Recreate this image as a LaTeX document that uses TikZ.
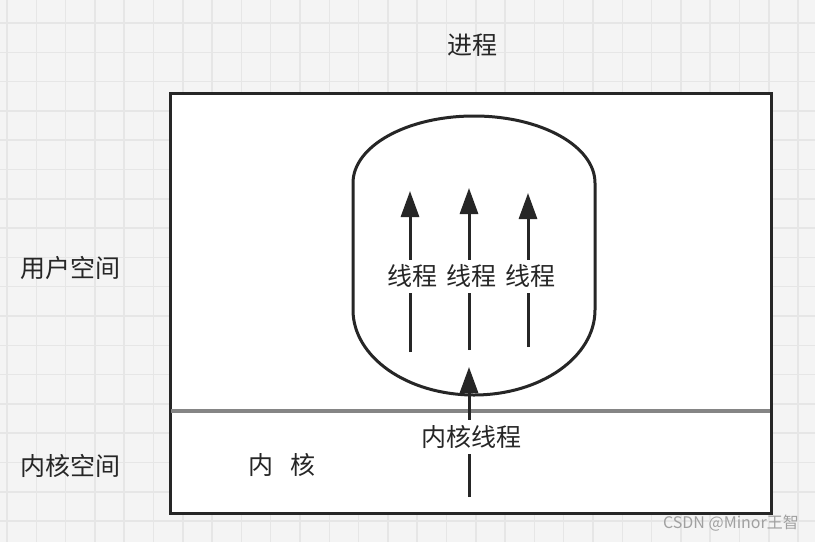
\documentclass[tikz,border=0pt]{standalone}
\usepackage{fontspec}
\setmainfont{Noto Sans CJK SC}
\usetikzlibrary{arrows.meta}
\definecolor{bgc}{HTML}{F4F4F4}
\definecolor{gridc}{HTML}{E6E6E6}
\definecolor{ink}{HTML}{262626}
\definecolor{divc}{HTML}{858585}
\definecolor{wmc}{HTML}{A0A0A0}
\tikzset{
  lbl/.style={text=ink, font=\fontsize{25}{29}\selectfont, inner sep=0pt},
  thr/.style={lbl, fill=white, inner xsep=1pt, inner ysep=5pt},
  arr/.style={draw=ink, line width=3pt, -{Triangle[length=26pt,width=18pt]}, fill=ink},
  box/.style={draw=ink, line width=3pt, fill=white},
}
\begin{document}
\begin{tikzpicture}[x=1pt,y=-1pt]
\useasboundingbox (0,0) rectangle (815,542);
\fill[bgc] (0,0) rectangle (815,542);
\foreach \k in {0,...,27} \draw[gridc, line width=1.5pt] ({7+29.3*\k},0) -- ({7+29.3*\k},542);
\foreach \k in {0,...,17} \draw[gridc, line width=1.5pt] (0,{23+29.3*\k}) -- (815,{23+29.3*\k});
% main box
\draw[box] (170,93) rectangle (771,513);
\draw[divc, line width=4pt] (171,411) -- (770,411);
% process capsule
\draw[draw=ink, line width=3pt, fill=white]
  (353,310) -- (353,183) .. controls (353,146) and (407.2,116) .. (474,116)
  .. controls (540.8,116) and (595,146) .. (595,183) -- (595,310)
  .. controls (595,356.9) and (540.8,395) .. (474,395)
  .. controls (407.2,395) and (353,356.9) .. (353,310) -- cycle;
% thread arrows
\coordinate (a1s) at (410,352); \coordinate (a1e) at (410,191);
\coordinate (a2s) at (469,350); \coordinate (a2e) at (469,188);
\coordinate (a3s) at (528,347); \coordinate (a3e) at (528,193);
\coordinate (ks) at (469,497); \coordinate (ke) at (469,367);
\draw[arr] (a1s) -- (a1e);
\draw[arr] (a2s) -- (a2e);
\draw[arr] (a3s) -- (a3e);
\draw[arr] (ks) -- (ke);
\node[thr] (t1) at (412,276) {线程};
\node[thr] (t2) at (471,276) {线程};
\node[thr] (t3) at (530,276) {线程};
\node[thr] (kt) at (471,437) {内核线程};
% labels
\node[lbl] (proc) at (472,45) {进程};
\node[lbl] (user) at (70,268) {用户空间};
\node[lbl] (kspace) at (70,466) {内核空间};
\node[lbl] (kern) at (282,465) {内\hspace{17pt}核};
\node[text=wmc, font=\fontsize{16}{18}\selectfont, inner sep=0pt] (wm) at (731,523) {CSDN @Minor王智};
\end{tikzpicture}
\end{document}
